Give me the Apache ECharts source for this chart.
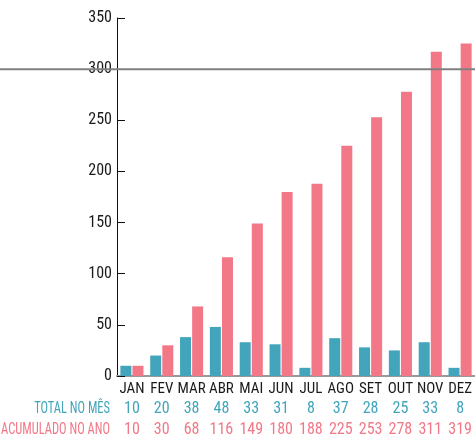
<!DOCTYPE html>
<html>
<head>
<meta charset="utf-8">
<script src="https://cdn.jsdelivr.net/npm/echarts@6/dist/echarts.min.js"></script>
<style>
  html, body { margin: 0; padding: 0; background: #fff; }
  #chart { width: 475px; height: 435px; }
</style>
</head>
<body>
<div id="chart"></div>
<script>
// data
const months = ['JAN', 'FEV', 'MAR', 'ABR', 'MAI', 'JUN', 'JUL', 'AGO', 'SET', 'OUT', 'NOV', 'DEZ'];
const totalNoMes = [10, 20, 38, 48, 33, 31, 8, 37, 28, 25, 33, 8];
const acumuladoBars = [10, 30, 68, 116, 149, 180, 188, 225, 253, 278, 317, 325];
const acumuladoLabels = [10, 30, 68, 116, 149, 180, 188, 225, 253, 278, 311, 319];
const yTicks = [0, 50, 100, 150, 200, 250, 300, 350];
const refLine = 300;

const TEAL = '#42a5bb';
const PINK = '#f27887';
const FONT = "'Roboto Condensed', 'Liberation Sans Narrow', sans-serif";

const chart = echarts.init(document.getElementById('chart'));

// table rows below the axis are extra category axes on the same grid
const tableAxis = (values, color, offset) => ({
  type: 'category',
  data: values.map(String),
  position: 'bottom',
  offset: offset,
  axisLine: { show: false },
  axisTick: { show: false },
  axisLabel: { color: color, fontSize: 16, fontFamily: FONT, margin: 0, interval: 0 },
});

chart.setOption({
  animation: false,
  grid: { left: 117, right: 0, top: 18, bottom: 59, outerBoundsMode: 'none' },
  xAxis: [
    {
      type: 'category',
      data: months,
      axisLine: { lineStyle: { color: '#999', width: 2 } },
      axisTick: { inside: true, length: 7, lineStyle: { color: '#222' } },
      axisLabel: { color: '#1a1a1a', fontSize: 15, fontFamily: FONT, margin: 6, interval: 0 },
    },
    tableAxis(totalNoMes, TEAL, 25),
    tableAxis(acumuladoLabels, PINK, 46),
  ],
  yAxis: {
    type: 'value',
    min: 0,
    max: yTicks[yTicks.length - 1],
    interval: 50,
    axisLine: { show: true, lineStyle: { color: '#111', width: 1 } },
    axisTick: { show: true, inside: true, length: 8, lineStyle: { color: '#111' } },
    axisLabel: { color: '#1a1a1a', fontSize: 16, fontFamily: FONT, margin: 5 },
    splitLine: { show: false },
  },
  series: [
    {
      name: 'TOTAL NO MÊS',
      type: 'bar',
      data: totalNoMes,
      barWidth: 11,
      barGap: '10%',
      itemStyle: { color: TEAL },
    },
    {
      name: 'ACUMULADO NO ANO',
      type: 'bar',
      data: acumuladoBars,
      barWidth: 11,
      itemStyle: { color: PINK },
    },
  ],
});

// full-width reference line and row titles, placed from the axes
const yRef = chart.convertToPixel({ yAxisIndex: 0 }, refLine);
const yBase = chart.convertToPixel({ yAxisIndex: 0 }, 0);
const rowTitle = (text, color, dy) => ({
  type: 'text',
  x: 110, y: yBase + dy,
  scaleX: 0.78,
  style: { text: text, fill: color, font: '16px ' + FONT, align: 'right', verticalAlign: 'middle' },
});
chart.setOption({
  graphic: [
    {
      type: 'line',
      shape: { x1: 0, y1: yRef, x2: 475, y2: yRef },
      style: { stroke: '#808080', lineWidth: 2 },
      z: 10,
    },
    rowTitle('TOTAL NO MÊS', TEAL, 33),
    rowTitle('ACUMULADO NO ANO', PINK, 54),
  ],
});
</script>
</body>
</html>
